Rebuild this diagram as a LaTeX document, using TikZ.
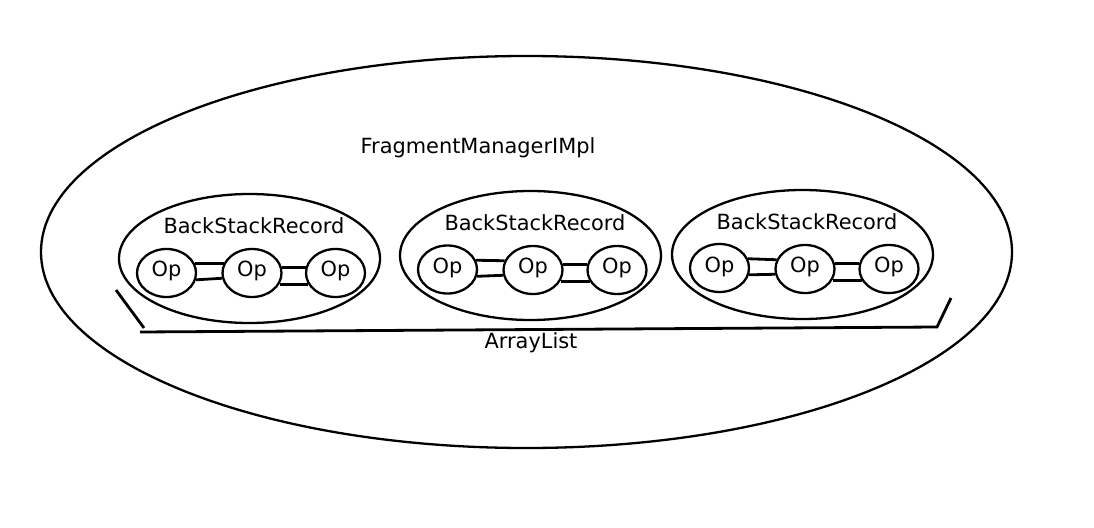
\documentclass[tikz,border=0pt]{standalone}
\usepackage{fontspec}
\setmainfont{DejaVu Sans}
\usetikzlibrary{shapes.geometric}
\begin{document}
\begin{tikzpicture}[x=1pt,y=-1pt,
  every node/.style={font=\fontsize{20.9}{24}\selectfont},
  outer/.style={draw,ellipse,line width=2.3pt,minimum width=971pt,minimum height=392pt,inner sep=0pt},
  group/.style={draw,ellipse,line width=2.3pt,minimum width=261pt,minimum height=129pt,inner sep=0pt},
  opnode/.style={draw,ellipse,line width=2.3pt,minimum width=59pt,minimum height=48pt,inner sep=0pt},
  link/.style={line width=2.8pt},
  brk/.style={line width=2.8pt}]
\useasboundingbox[fill=white] (0,0) rectangle (1094,527);
\node[outer] (fm) at (526.5,252) {};
\node (fmt) at (478,148) {FragmentManagerIMpl};
% group 1
\node[group] (g1) at (249.5,258.5) {};
\node (g1t) at (254,226) {BackStackRecord};
\node[opnode] (a1) at (166.5,273) {};
\node[opnode] (a2) at (252,273) {};
\node[opnode] (a3) at (335.5,273) {};
\node (a1t) at (166.5,271) {Op};
\node (a2t) at (252,271) {Op};
\node (a3t) at (335.5,271) {Op};
% group 2
\node[group] (g2) at (530.5,255.5) {};
\node (g2t) at (535,223) {BackStackRecord};
\node[opnode] (b1) at (447.5,269.5) {};
\node[opnode] (b2) at (533,270) {};
\node[opnode] (b3) at (617,270) {};
\node (b1t) at (447.5,268) {Op};
\node (b2t) at (533,268) {Op};
\node (b3t) at (617,268) {Op};
% group 3
\node[group] (g3) at (802.5,254.5) {};
\node (g3t) at (807,222) {BackStackRecord};
\node[opnode] (c1) at (719.5,268) {};
\node[opnode] (c2) at (805,269) {};
\node[opnode] (c3) at (889,269) {};
\node (c1t) at (719.5,267) {Op};
\node (c2t) at (805,267) {Op};
\node (c3t) at (889,267) {Op};
% links
\foreach \p/\q in {a1/a2,b1/b2,c1/c2}{
  \draw[link] (\p.18) -- (\q.162);
  \draw[link] (\p.-13) -- (\q.-170);
}
\foreach \p/\q in {a2/a3,b2/b3,c2/c3}{
  \draw[link] (\p.10) -- (\q.170);
  \draw[link] (\p.-22) -- (\q.-158);
}
% ArrayList bracket
\coordinate (l1) at (116,290);
\coordinate (l2) at (144,328);
\coordinate (bl) at (140,332);
\coordinate (br) at (937,327);
\coordinate (rt) at (951,298);
\draw[brk] (l1) -- (l2);
\draw[brk] (bl) -- (br) -- (rt);
\node (al) at (531,343) {ArrayList};
\end{tikzpicture}
\end{document}
